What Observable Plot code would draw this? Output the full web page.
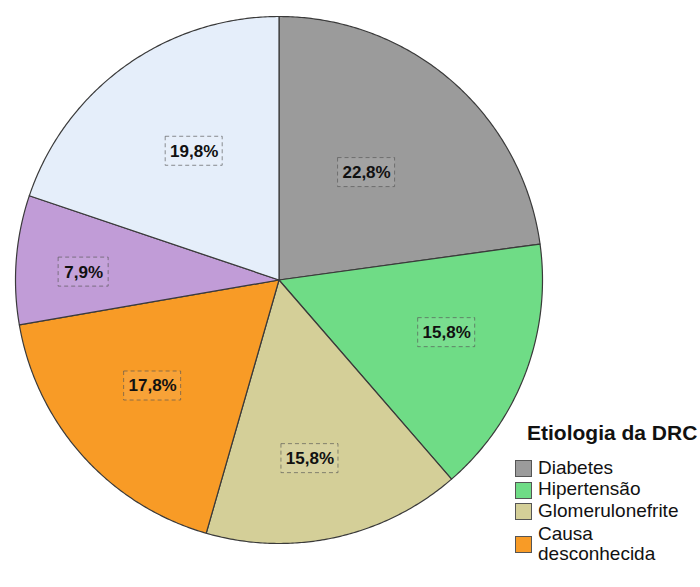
<!DOCTYPE html>
<html><head><meta charset="utf-8">
<script src="https://cdn.jsdelivr.net/npm/d3@7"></script>
<script src="https://cdn.jsdelivr.net/npm/@observablehq/plot@0.6"></script>
<style>
body{margin:0;background:#fff;}
#wrap{position:relative;width:700px;height:587px;overflow:hidden;background:#fff;}
#wrap svg{display:block;}
.lg{position:absolute;font-family:"Liberation Sans",Arial,sans-serif;color:#111;white-space:nowrap;}
.lg-title{font-size:21px;line-height:21px;font-weight:bold;}
.lg-item{font-size:19px;line-height:20px;}
.sw{position:absolute;width:17px;height:17px;border:1px solid #555;box-sizing:border-box;}
</style></head><body><div id="wrap"></div>
<script>
// ---- data ----
const categories = ["Diabetes", "Hipertensão", "Glomerulonefrite", "Causa desconhecida", "Outra", "Não informada"];
const legendLabels = [["Diabetes"], ["Hipertensão"], ["Glomerulonefrite"], ["Causa", "desconhecida"]];
const percents = [22.8, 15.8, 15.8, 17.8, 7.9, 19.8];
const colors = ["#9b9b9b", "#6fdc86", "#d4cf98", "#f89b26", "#c19cd7", "#e5eefa"];
const legendTitle = "Etiologia da DRC";

// ---- layout ----
const W = 700, H = 587, CX = 278.5, CY = 279.5, R = 263.5;
const labelLayout = [[0.526, -1.9], [0.667, -3.2], [0.688, 2.6], [0.626, 1.9], [0.742, -2.1], [0.585, 2.3]];
const boxH = 29;

const total = d3.sum(percents);
let acc = 0;
const slices = categories.map((c, i) => {
  const a0 = acc / total * 2 * Math.PI; acc += percents[i];
  const a1 = acc / total * 2 * Math.PI;
  return {c, i, a0, a1, v: percents[i]};
});
const pts = [];
for (const s of slices) {
  pts.push({c: s.c, x: 0, y: 0});
  const n = Math.max(2, Math.ceil((s.a1 - s.a0) / (Math.PI / 360)));
  for (let k = 0; k <= n; k++) {
    const a = s.a0 + (s.a1 - s.a0) * k / n;
    pts.push({c: s.c, x: Math.sin(a), y: Math.cos(a)});
  }
  pts.push({c: s.c, x: 0, y: 0});
}
const fmt = v => v.toFixed(1).replace(".", ",") + "%";
const labels = slices.map((s, i) => {
  const [rf, off] = labelLayout[i];
  const a = (s.a0 + s.a1) / 2 + off * Math.PI / 180;
  const t = fmt(s.v);
  const bw = t.length >= 5 ? 57 : 50;
  const x = rf * Math.sin(a), y = rf * Math.cos(a);
  return {t, x, y, x1: x - bw / 2 / R, x2: x + bw / 2 / R, y1: y - boxH / 2 / R, y2: y + boxH / 2 / R};
});

const chart = Plot.plot({
  width: W, height: H, margin: 0,
  x: {domain: [-CX / R, (W - CX) / R], axis: null},
  y: {domain: [-(H - CY) / R, CY / R], axis: null},
  color: {domain: categories, range: colors},
  marks: [
    Plot.line(pts, {x: "x", y: "y", z: "c", fill: "c", stroke: "#3a3a3a", strokeWidth: 1.2, strokeLinejoin: "round"}),
    Plot.rect(labels, {x1: "x1", x2: "x2", y1: "y1", y2: "y2", fill: "white", fillOpacity: 0.08, stroke: "#555", strokeOpacity: 0.65, strokeDasharray: "4,3", strokeWidth: 1}),
    Plot.text(labels, {x: "x", y: "y", text: "t", fontWeight: "bold", fontSize: 17, fill: "#111", fontFamily: "Liberation Sans, Arial, sans-serif"})
  ]
});
const wrap = document.getElementById("wrap");
wrap.appendChild(chart);

// ---- legend (HTML overlay) ----
const title = document.createElement("div");
title.className = "lg lg-title";
title.style.left = "527px"; title.style.top = "422px";
title.textContent = legendTitle;
wrap.appendChild(title);
const itemTops = [457.5, 479, 500.5, 523.5];
legendLabels.forEach((lines, i) => {
  const el = document.createElement("div");
  el.className = "lg lg-item";
  el.style.left = "538px"; el.style.top = itemTops[i] + "px";
  el.innerHTML = lines.map(l => `<div>${l}</div>`).join("");
  wrap.appendChild(el);
  const sw = document.createElement("div");
  sw.className = "sw";
  sw.style.left = "515px";
  const mid = itemTops[i] + lines.length * 20 / 2 + 1;
  sw.style.top = (mid - 8.5) + "px";
  sw.style.background = colors[i];
  wrap.appendChild(sw);
});
</script></body></html>
